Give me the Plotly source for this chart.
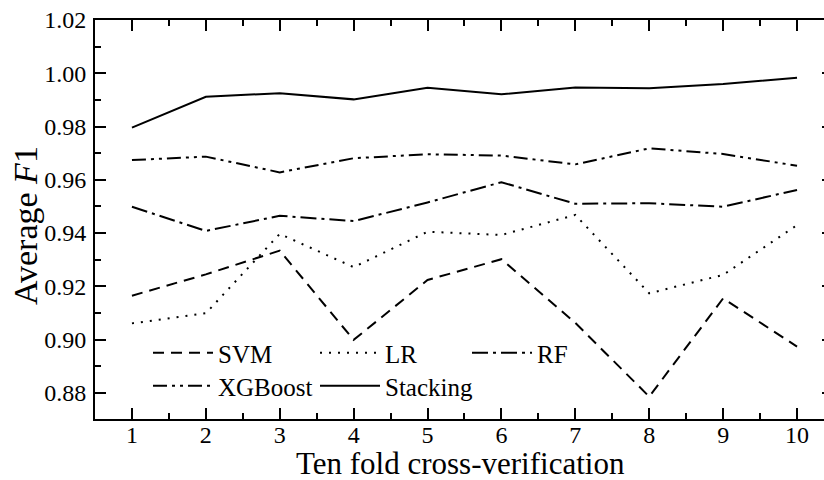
import plotly.graph_objects as go

folds = [1, 2, 3, 4, 5, 6, 7, 8, 9, 10]
svm = [0.9165, 0.9245, 0.9334, 0.8999, 0.9224, 0.9302, 0.9063, 0.8786, 0.9155, 0.8974]
lr = [0.9061, 0.9099, 0.9397, 0.9272, 0.9405, 0.9393, 0.9468, 0.9174, 0.9243, 0.9430]
rf = [0.9499, 0.9408, 0.9465, 0.9445, 0.9515, 0.9591, 0.9510, 0.9512, 0.9499, 0.9562]
xgb = [0.9674, 0.9687, 0.9628, 0.9681, 0.9696, 0.9691, 0.9658, 0.9718, 0.9697, 0.9653]
stacking = [0.9796, 0.9912, 0.9925, 0.9902, 0.9946, 0.9921, 0.9947, 0.9944, 0.9960, 0.9983]

names = ["SVM", "LR", "RF", "XGBoost", "Stacking"]
values = [svm, lr, rf, xgb, stacking]
dashes = ["11px,7px", "2px,7px", "16px,5px,3px,5px", "14px,5px,3px,5px,3px,5px", "solid"]
# legend entry anchor (pixel position of each entry in the figure)
leg_px = [(148, 353), (315, 353), (467, 353), (148, 386), (315, 386)]

FONT = "Liberation Serif"
W, H = 824, 480
ML, MT, MB = 95, 20, 61
PW, PH = W - ML, H - MT - MB

fig = go.Figure()
legends = {}
for i, (name, vals, dash) in enumerate(zip(names, values, dashes)):
    key = "legend" if i == 0 else f"legend{i+1}"
    fig.add_trace(go.Scatter(x=folds, y=vals, mode="lines", name=name,
                             line=dict(color="black", width=2, dash=dash),
                             legend=key))
    px, py = leg_px[i]
    legends[key] = dict(x=(px - ML) / PW, y=(H - MB - py) / PH, xref="paper", yref="paper",
                        xanchor="left", yanchor="middle", itemwidth=60,
                        bgcolor="rgba(0,0,0,0)", borderwidth=0,
                        font=dict(size=25, family=FONT, color="black"))

axis_common = dict(showgrid=False, zeroline=False, linecolor="black", linewidth=2,
                   ticks="inside", tickcolor="black", tickwidth=2, ticklen=11)
minor_x = dict(dtick=0.5, tick0=0.5, ticks="inside", ticklen=6, tickcolor="black", tickwidth=2)

fig.update_layout(
    width=W, height=H,
    margin=dict(l=ML, r=0, t=MT, b=MB, autoexpand=False),
    paper_bgcolor="white", plot_bgcolor="white",
    font=dict(family=FONT, color="black", size=24),
    xaxis=dict(range=[0.5, 10.365], tickmode="linear", tick0=1, dtick=1,
               showline=True, mirror=False, minor=minor_x,
               tickfont=dict(size=24), ticklabelstandoff=-7,
               **axis_common),
    yaxis=dict(range=[0.8702, 1.02], tickmode="linear", tick0=0.88, dtick=0.02,
               tickformat=".2f", showline=True, mirror=False,
               minor=dict(dtick=0.01, ticks="inside", ticklen=6, tickcolor="black", tickwidth=2),
               tickfont=dict(size=24), ticklabelstandoff=2,
               **axis_common),
    xaxis2=dict(overlaying="x", side="top", matches="x", range=[0.5, 10.365],
                tickmode="linear", tick0=1, dtick=1, showticklabels=False, showline=True,
                minor=minor_x, **axis_common),
    yaxis2=dict(overlaying="y", side="right", matches="y", range=[0.8702, 1.02],
                tickmode="linear", tick0=0.88, dtick=0.02, showticklabels=False,
                showgrid=False, zeroline=False, showline=False,
                ticks="inside", tickcolor="black", tickwidth=2, ticklen=2),
    showlegend=True,
    annotations=[
        dict(text="Ten fold cross-verification", xref="paper", yref="paper",
             x=(460 - ML) / PW, y=(H - MB - 463) / PH, xanchor="center", yanchor="middle",
             showarrow=False, borderpad=0, font=dict(size=31, family=FONT, color="black")),
        dict(text="Average <i>F</i>1", xref="paper", yref="paper",
             x=(25 - ML) / PW, y=(H - MB - 226) / PH, xanchor="center", yanchor="middle",
             textangle=-90, showarrow=False, font=dict(size=34, family=FONT, color="black")),
    ],
    **legends,
)

# invisible helper trace to activate the mirrored top/right axes
fig.add_trace(go.Scatter(x=[folds[0]], y=[svm[0]], xaxis="x2", yaxis="y2", mode="markers",
                         marker=dict(opacity=0), showlegend=False, hoverinfo="skip"))

fig.write_html("out.html")
